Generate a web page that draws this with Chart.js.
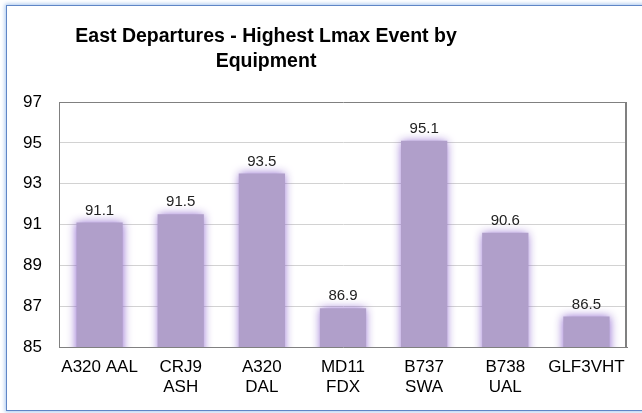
<!DOCTYPE html>
<html>
<head>
<meta charset="utf-8">
<script src="https://cdn.jsdelivr.net/npm/chart.js@4.4.0/dist/chart.umd.min.js"></script>
<style>
  html, body { margin: 0; padding: 0; background: #fff; overflow: hidden; }
  #frame {
    position: absolute; left: 6px; top: 5px; width: 700px; height: 406px;
    border: 1px solid #5f86c6; box-sizing: border-box;
    box-shadow: 0 0 4px 1px #a8c6ee;
    background: #fff;
  }
  #wrap { position: absolute; left: 0; top: 0; width: 642px; height: 413px; }
</style>
</head>
<body>
<div id="frame"></div>
<div id="wrap"><canvas id="myChart" width="642" height="413"></canvas></div>
<script>
const categories = [['A320 AAL'], ['CRJ9', 'ASH'], ['A320', 'DAL'], ['MD11', 'FDX'], ['B737', 'SWA'], ['B738', 'UAL'], ['GLF3VHT']];
const lmaxValues = [91.1, 91.5, 93.5, 86.9, 95.1, 90.6, 86.5];
const yTicks = [85, 87, 89, 91, 93, 95, 97];
const titleLines = ['East Departures - Highest Lmax Event by', 'Equipment'];

document.addEventListener('DOMContentLoaded', () => {
  const FONT = '"Liberation Sans", Arial, sans-serif';

  const glowPlugin = {
    id: 'glow',
    beforeDatasetDraw(chart) {
      const ctx = chart.ctx;
      ctx.save();
      ctx.shadowColor = 'rgba(140, 100, 205, 0.95)';
      ctx.shadowBlur = 9;
    },
    afterDatasetDraw(chart) {
      chart.ctx.restore();
    },
  };

  const decorations = {
    id: 'decorations',
    afterDraw(chart) {
      const ctx = chart.ctx;
      const a = chart.chartArea;
      const meta = chart.getDatasetMeta(0);
      ctx.save();
      // right edge of the plot box
      ctx.strokeStyle = '#808080';
      ctx.lineWidth = 2;
      ctx.beginPath();
      ctx.moveTo(a.right - 1, a.top);
      ctx.lineTo(a.right - 1, a.bottom);
      ctx.stroke();
      // value labels
      ctx.font = '15px ' + FONT;
      ctx.fillStyle = '#222';
      ctx.textAlign = 'center';
      ctx.textBaseline = 'middle';
      meta.data.forEach((bar, i) => {
        ctx.fillText(lmaxValues[i].toFixed(1), bar.x, bar.y - 12);
      });
      // title
      ctx.font = 'bold 19.5px ' + FONT;
      ctx.fillStyle = '#000';
      titleLines.forEach((line, i) => {
        ctx.fillText(line, 266, 37 + i * 25);
      });
      ctx.restore();
    },
  };

  const ctx = document.getElementById('myChart').getContext('2d');
  new Chart(ctx, {
    type: 'bar',
    data: {
      labels: categories,
      datasets: [
        {
          data: lmaxValues,
          backgroundColor: '#b09fca',
          borderWidth: 0,
          categoryPercentage: 1,
          barPercentage: 0.57,
        },
      ],
    },
    options: {
      responsive: false,
      animation: false,
      devicePixelRatio: 1,
      layout: { padding: { left: 0, right: 15, top: 102, bottom: 0 } },
      plugins: {
        legend: { display: false },
        tooltip: { enabled: false },
        title: { display: false },
      },
      scales: {
        x: {
          afterFit(axis) { axis.height = 66; },
          grid: {
            display: true,
            drawTicks: false,
            lineWidth: 2,
            color: (c) => (c.index === categories.length ? '#808080' : 'rgba(0,0,0,0)'),
          },
          border: { color: '#808080', width: 1 },
          ticks: {
            color: '#000',
            font: { family: FONT, size: 17, lineHeight: 1.18 },
            maxRotation: 0,
            autoSkip: false,
            padding: 10,
          },
        },
        y: {
          min: 85,
          max: 97,
          afterBuildTicks(axis) {
            axis.ticks = yTicks.map((v) => ({ value: v }));
          },
          afterFit(axis) { axis.width = 59; },
          grid: {
            drawTicks: false,
            color: (c) => (c.tick && c.tick.value === 97 ? '#808080' : '#d2d2d2'),
          },
          border: { color: '#808080', width: 1 },
          ticks: {
            color: '#000',
            font: { family: FONT, size: 17 },
            padding: 17,
          },
        },
      },
    },
    plugins: [glowPlugin, decorations],
  });
});
</script>
</body>
</html>
